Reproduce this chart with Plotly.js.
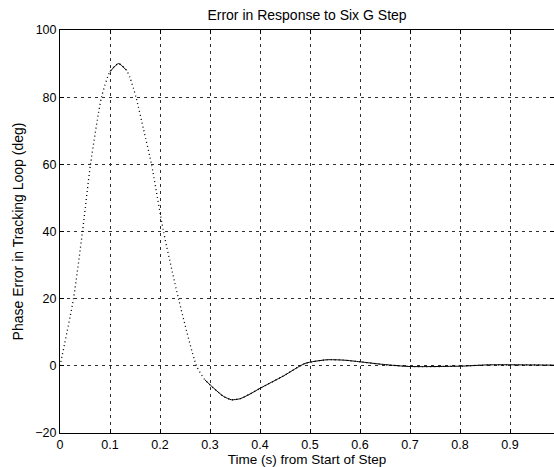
<!DOCTYPE html>
<html>
<head>
<meta charset="utf-8">
<script src="https://cdn.plot.ly/plotly-3.0.1.min.js"></script>
<style>
  html, body { margin: 0; padding: 0; background: #ffffff; }
  #chart { width: 554px; height: 467px; }
</style>
</head>
<body>
<div id="chart"></div>
<script>
// Time (s) from start of step
const timeSec = [0, 0.027, 0.045, 0.061, 0.083, 0.100, 0.117, 0.133, 0.140, 0.152,
                 0.167, 0.183, 0.207, 0.237, 0.273, 0.290, 0.307, 0.327, 0.343, 0.360,
                 0.380, 0.400, 0.447, 0.490, 0.533, 0.567, 0.600, 0.647, 0.700, 0.800,
                 0.860, 0.988];
// Phase error in tracking loop (deg)
const phaseErr = [0, 20, 40, 60, 80, 87.6, 90, 88.0, 85.8, 80,
                  70.5, 60, 40, 20, 0, -4.2, -6.6, -9.1, -10.1, -9.8,
                  -8.4, -6.7, -3.0, 0.7, 1.8, 1.7, 1.2, 0.4, -0.2, -0.1,
                  0.3, 0.2];
// Index ranges where the sampled curve looks solid (densely sampled dots)
const denseSegments = [[5, 7], [15, timeSec.length - 1]];

const xTicks = [0, 0.1, 0.2, 0.3, 0.4, 0.5, 0.6, 0.7, 0.8, 0.9];
const xTickText = ['0', '0.1', '0.2', '0.3', '0.4', '0.5', '0.6', '0.7', '0.8', '0.9'];
const yTicks = [-20, 0, 20, 40, 60, 80, 100];

const traces = [{
  x: timeSec, y: phaseErr, type: 'scatter', mode: 'lines',
  line: { color: '#000000', width: 1.3, dash: '1px,3px', shape: 'spline', smoothing: 0.6 },
  hoverinfo: 'skip', showlegend: false
}];
denseSegments.forEach(r => traces.push({
  x: timeSec.slice(r[0], r[1] + 1),
  y: phaseErr.slice(r[0], r[1] + 1),
  type: 'scatter', mode: 'lines',
  line: { color: '#000000', width: 1, shape: 'spline', smoothing: 0.6 },
  hoverinfo: 'skip', showlegend: false
}));

const fontFam = 'Arial, "Liberation Sans", Helvetica, sans-serif';
const axisCommon = {
  showline: true, linecolor: '#000000', linewidth: 1, mirror: 'ticks',
  ticks: 'inside', ticklen: 4, tickcolor: '#000000',
  showgrid: true, gridcolor: '#2e2e2e', gridwidth: 1, griddash: '3px,4px',
  zeroline: false,
  tickfont: { family: fontFam, size: 12.5, color: '#000000' }
};
const titleFont = { family: fontFam, size: 14, color: '#000000' };

const layout = {
  width: 554, height: 467,
  margin: { l: 60, r: 0, t: 30, b: 34 },
  paper_bgcolor: '#ffffff', plot_bgcolor: '#ffffff',
  font: { family: fontFam, color: '#000000' },
  title: {
    text: 'Error in Response to Six G Step', font: titleFont,
    x: 0.5, xref: 'paper', y: 0.967, yref: 'container', yanchor: 'middle'
  },
  xaxis: Object.assign({}, axisCommon, {
    range: [0, 0.988], tickvals: xTicks, ticktext: xTickText,
    title: { text: 'Time (s) from Start of Step', font: { family: fontFam, size: 13.5, color: '#000000' }, standoff: 3 }
  }),
  yaxis: Object.assign({}, axisCommon, {
    range: [-20, 100], tickvals: yTicks,
    title: { text: 'Phase Error in Tracking Loop (deg)', font: titleFont, standoff: 8 }
  }),
  showlegend: false
};

Plotly.newPlot('chart', traces, layout, { displayModeBar: false, staticPlot: true });
</script>
</body>
</html>
